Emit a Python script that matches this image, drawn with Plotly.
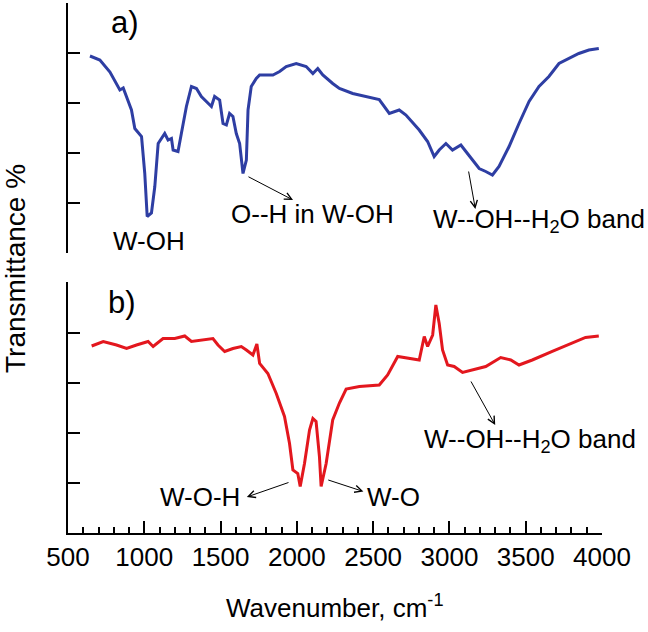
import plotly.graph_objects as go

# ---- data ----
wn_a = [644, 709, 775, 840, 862, 884, 916, 938, 982, 1003, 1019, 1047, 1069, 1091, 1134, 1156, 1178,
        1189, 1221, 1243, 1276, 1309, 1342, 1374, 1407, 1440, 1461, 1494, 1516, 1538, 1559, 1581,
        1603, 1625, 1647, 1669, 1680, 1701, 1734, 1756, 1843, 1887, 1930, 1996, 2061, 2105, 2137,
        2170, 2235, 2279, 2366, 2540, 2606, 2671, 2715, 2802, 2857, 2900, 2933, 2977, 3020, 3075,
        3108, 3151, 3195, 3238, 3282, 3325, 3391, 3456, 3522, 3587, 3652, 3718, 3783, 3848, 3914, 3979]
tr_a = [3.94, 3.86, 3.62, 3.26, 3.30, 3.13, 2.86, 2.49, 2.33, 1.60, 0.73, 0.80, 1.33, 2.19, 2.39, 2.26, 2.29,
        2.06, 2.03, 2.39, 2.93, 3.33, 3.29, 3.13, 3.03, 2.93, 3.13, 3.06, 2.59, 2.56, 2.79, 2.73,
        2.39, 2.19, 1.59, 1.86, 2.86, 3.33, 3.49, 3.56, 3.56, 3.63, 3.73, 3.79, 3.73, 3.59, 3.69,
        3.56, 3.39, 3.29, 3.19, 3.07, 2.79, 2.86, 2.76, 2.46, 2.23, 1.93, 2.06, 2.19, 2.06, 2.16,
        2.03, 1.86, 1.69, 1.63, 1.56, 1.73, 2.13, 2.59, 3.03, 3.33, 3.53, 3.79, 3.89, 3.99, 4.06, 4.09]

wn_b = [655, 731, 818, 884, 949, 1025, 1058, 1123, 1200, 1265, 1309, 1385, 1450, 1483, 1527, 1581, 1636,
        1669, 1712, 1738, 1756, 1810, 1865, 1919, 1952, 1974, 2006, 2022, 2050, 2083, 2105, 2126,
        2148, 2159, 2192, 2235, 2279, 2323, 2410, 2540, 2595, 2661, 2737, 2802, 2835, 2857, 2890,
        2911, 2933, 2955, 2988, 3031, 3086, 3151, 3238, 3336, 3402, 3456, 3543, 3674, 3805, 3892, 3979]
tr_b = [3.74, 3.83, 3.76, 3.69, 3.76, 3.83, 3.73, 3.89, 3.89, 3.94, 3.83, 3.86, 3.89, 3.76, 3.63, 3.69, 3.73,
        3.66, 3.56, 3.78, 3.39, 3.19, 2.79, 2.33, 1.79, 1.26, 1.19, 0.93, 1.39, 2.06, 2.29, 2.23,
        1.53, 0.93, 1.39, 2.26, 2.60, 2.88, 2.93, 2.96, 3.16, 3.53, 3.49, 3.46, 3.93, 3.73, 3.96,
        4.56, 4.19, 3.66, 3.36, 3.33, 3.21, 3.26, 3.33, 3.51, 3.46, 3.36, 3.46, 3.63, 3.79, 3.91, 3.94]

x_ticks = [500, 1000, 1500, 2000, 2500, 3000, 3500, 4000]
x_tick_labels = ["500", "1000", "1500", "2000", "2500", "3000", "3500", "4000"]
y_ticks = [0, 1, 2, 3, 4, 5]

panel_labels = ["a)", "b)"]
x_title = "Wavenumber, cm<sup>-1</sup>"
y_title = "Transmittance %"

FONT = "Liberation Sans, Arial, sans-serif"
FS = 26
BLUE = "#2E3EA3"
RED = "#E3171E"

fig = go.Figure()
fig.add_trace(go.Scatter(x=wn_a, y=tr_a, mode="lines", line=dict(color=BLUE, width=3),
                         xaxis="x2", yaxis="y2", showlegend=False))
fig.add_trace(go.Scatter(x=wn_b, y=tr_b, mode="lines", line=dict(color=RED, width=3),
                         xaxis="x", yaxis="y", showlegend=False))

yax = dict(showline=True, linecolor="black", linewidth=2, ticks="inside", ticklen=12, tickwidth=2,
           tickcolor="black", tickvals=y_ticks, showticklabels=False, showgrid=False, zeroline=False)

fig.update_layout(
    width=648, height=632,
    margin=dict(l=68, r=46, t=3, b=99),
    paper_bgcolor="white", plot_bgcolor="white",
    font=dict(family=FONT, color="black", size=FS),
    xaxis=dict(range=[500, 4000], showline=True, linecolor="black", linewidth=2,
               ticks="inside", ticklen=12, tickwidth=2, tickcolor="black",
               tickvals=x_ticks, ticktext=x_tick_labels, tickfont=dict(size=FS, family=FONT),
               minor=dict(ticks="inside", ticklen=6, tickwidth=1.5, tickcolor="black", dtick=100, tick0=500,
                          showgrid=False),
               showgrid=False, zeroline=False, anchor="y"),
    xaxis2=dict(range=[500, 4000], matches="x", visible=False, anchor="y2"),
    yaxis=dict(domain=[0, 0.4736], range=[0, 5.02], **yax),
    yaxis2=dict(domain=[0.5283, 1.0], range=[0, 5.0], **yax),
)

ann = []
# panel labels
ann.append(dict(x=873, y=4.62, xref="x2", yref="y2", text=panel_labels[0], showarrow=False,
                font=dict(size=31, family=FONT)))
ann.append(dict(x=853, y=4.6, xref="x", yref="y", text=panel_labels[1], showarrow=False,
                font=dict(size=31, family=FONT)))
# text labels, top panel
ann.append(dict(x=1030, y=0.24, xref="x2", yref="y2", text="W-OH", showarrow=False))
ann.append(dict(x=2100, y=0.78, xref="x2", yref="y2", text="O--H in W-OH", showarrow=False))
ann.append(dict(x=3590, y=0.66, xref="x2", yref="y2", text="W--OH--H<sub>2</sub>O band", showarrow=False))
# text labels, bottom panel
ann.append(dict(x=1365, y=0.72, xref="x", yref="y", text="W-O-H", showarrow=False))
ann.append(dict(x=2633, y=0.72, xref="x", yref="y", text="W-O", showarrow=False))
ann.append(dict(x=3530, y=1.86, xref="x", yref="y", text="W--OH--H<sub>2</sub>O band", showarrow=False))

# arrows (head at text, tail at curve)
arrows = [
    ("x2", "y2", 1975, 1.06, 1673, 1.54),
    ("x2", "y2", 3170, 0.88, 3124, 1.66),
    ("x", "y", 1672, 0.72, 1955, 1.02),
    ("x", "y", 2436, 0.83, 2196, 1.07),
    ("x", "y", 3300, 2.16, 3136, 3.06),
]
for xr, yr, hx, hy, tx, ty in arrows:
    ann.append(dict(x=hx, y=hy, xref=xr, yref=yr, ax=tx, ay=ty, axref=xr, ayref=yr, text="",
                    showarrow=True, arrowhead=5, arrowsize=1.4, arrowwidth=1, arrowcolor="black",
                    standoff=0, startstandoff=0))

# axis titles
ann.append(dict(x=0.5, y=-0.1396, xref="paper", yref="paper", text=x_title, showarrow=False,
                xanchor="center", yanchor="middle", font=dict(size=FS, family=FONT)))
ann.append(dict(x=-0.0993, y=0.5, xref="paper", yref="paper", text=y_title, showarrow=False,
                textangle=-90, xanchor="center", yanchor="middle", font=dict(size=28, family=FONT)))

fig.update_layout(annotations=ann)
fig.write_html("out.html", config={"displayModeBar": False},
               post_script="document.body.style.margin='0';document.body.style.overflow='hidden';")
